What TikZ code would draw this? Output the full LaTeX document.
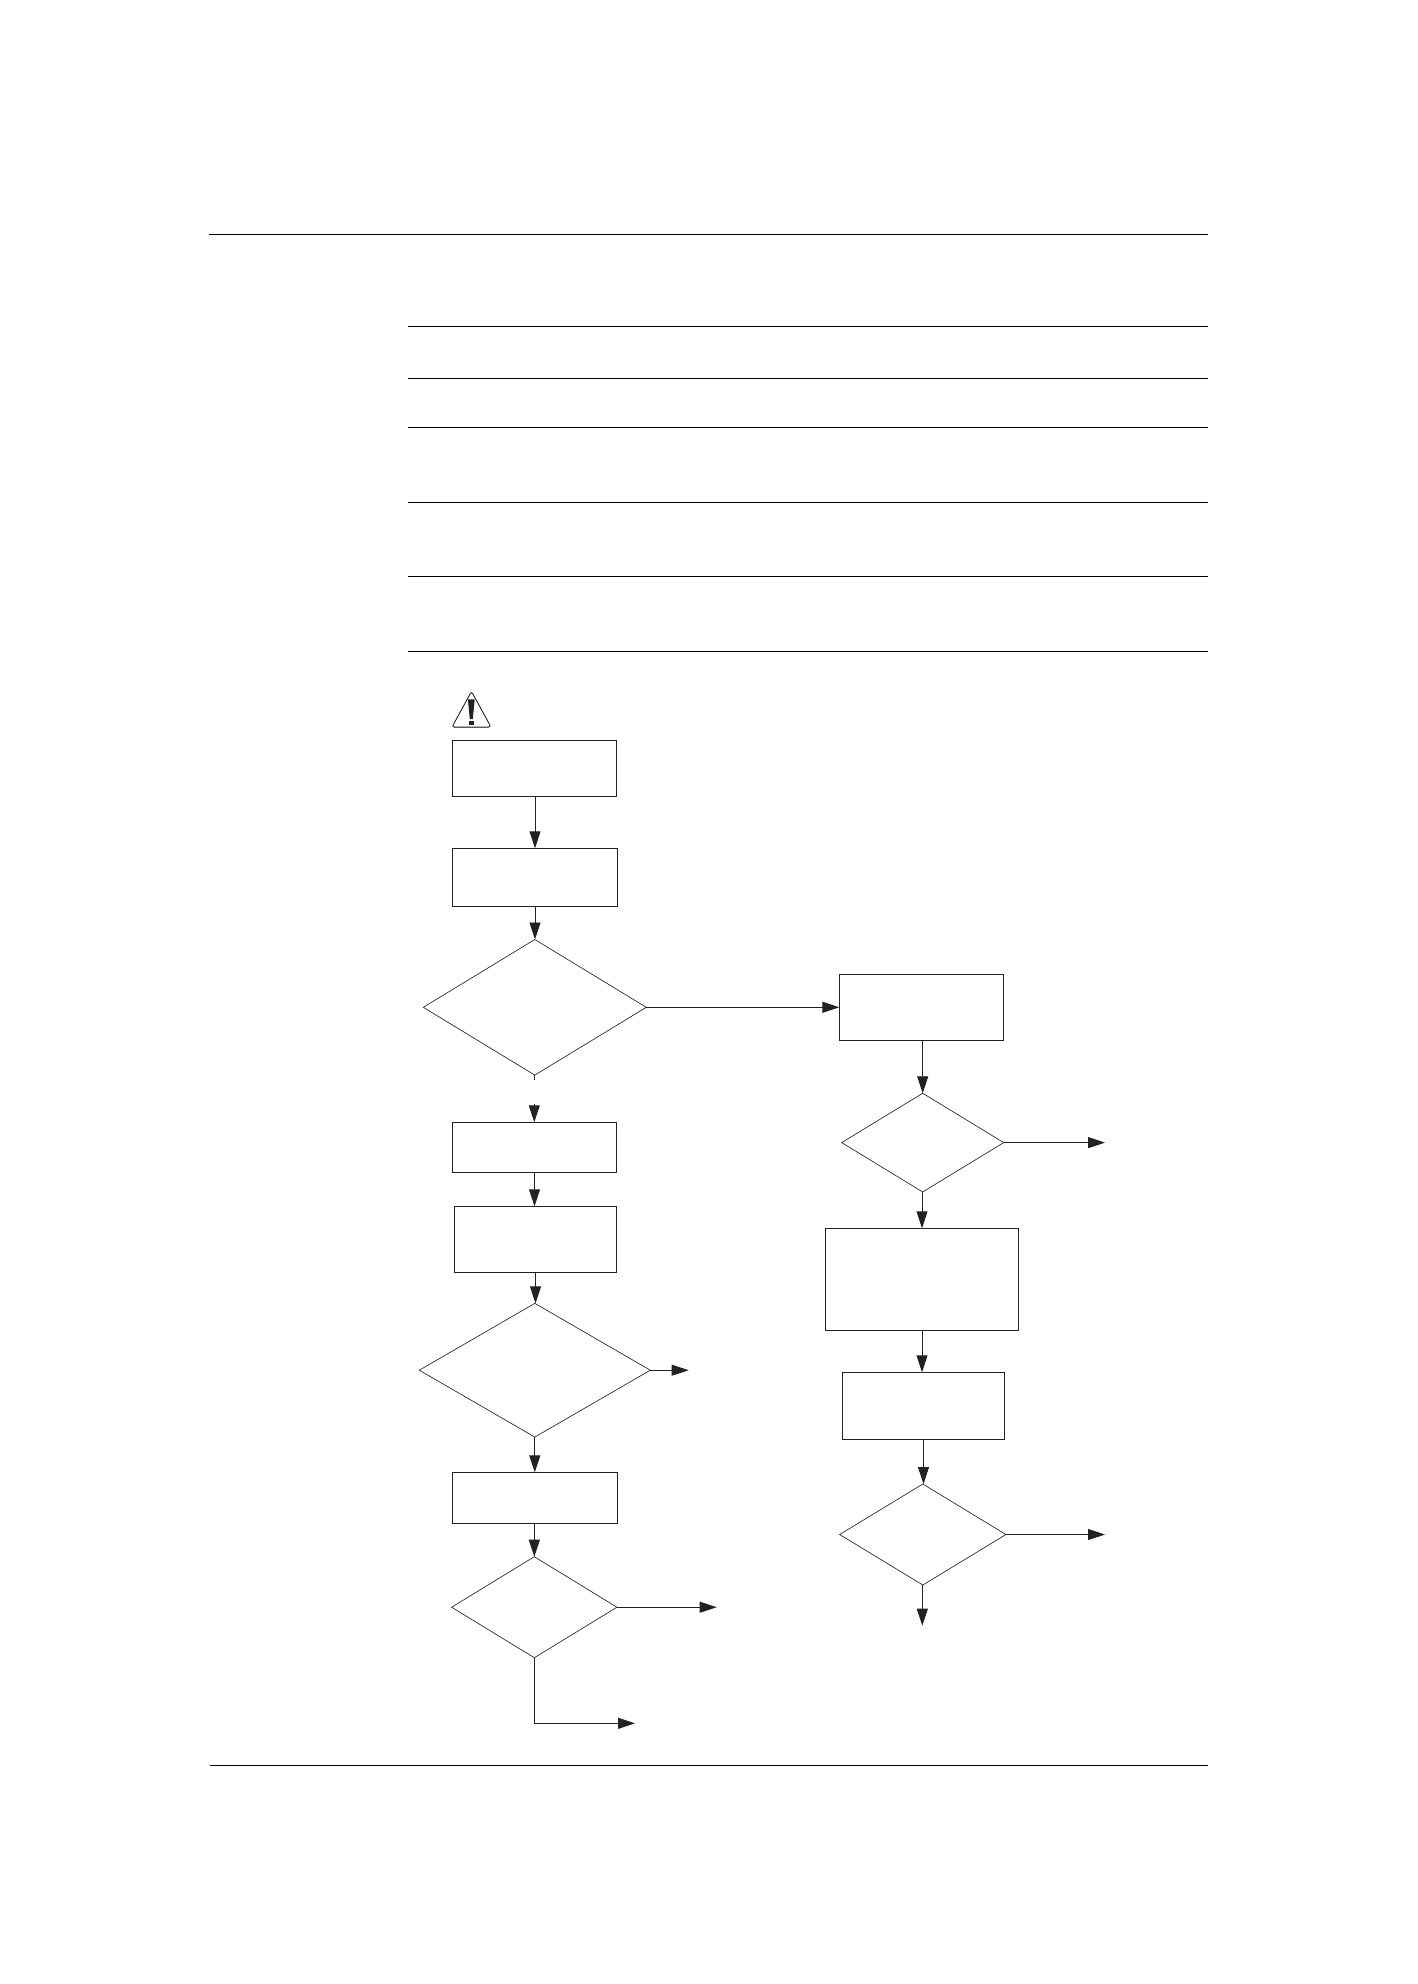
\documentclass[tikz,border=0pt]{standalone}
\usetikzlibrary{arrows.meta,shapes.geometric}
\definecolor{inkline}{HTML}{222222}
\tikzset{
    stepbox/.style={draw=inkline,line width=0.9pt,rectangle,inner sep=0pt,outer sep=0pt},
    decision/.style={draw=inkline,line width=0.65pt,diamond,aspect=1.6,inner sep=0pt,outer sep=0pt},
    flow/.style={draw=inkline,line width=0.9pt,-{Triangle[length=17pt,width=11pt]}},
    rule/.style={draw=black,line width=1pt}
}
\begin{document}
\begin{tikzpicture}[x=1pt,y=-1pt]
        \useasboundingbox (0,0) rectangle (1418,1984);
        %% page rules
        \draw[rule] (209,234.5) -- (1208,234.5);
        \draw[rule] (210,1765) -- (1208,1765);
        \foreach \rowy in {326,378,427,502,576,651} {
            \draw[rule] (408,\rowy) -- (1208,\rowy);
        }
        %% warning sign
        \draw[gray,line width=1.2pt] (454,727.6) -- (489,727.6);
        \draw[inkline,line width=0.9pt,rounded corners=2.5pt] (452,727) -- (471.5,691.5) -- (491,727) -- cycle;
        \fill[inkline] (467.9,699.3) -- (474.7,699.3) -- (472.8,719.2) -- (469.8,719.2) -- cycle;
        \fill[inkline] (469,720.5) rectangle (473.6,724.7);
        %% left column
        \node[stepbox,minimum width=164.4pt,minimum height=56.4pt] (box1) at (534.5,768.5) {};
        \node[stepbox,minimum width=165.4pt,minimum height=58.4pt] (box2) at (535,877.5) {};
        \node[decision,minimum width=223pt,minimum height=135.6pt] (dia1) at (534.8,1007.3) {};
        \node[stepbox,minimum width=164.4pt,minimum height=50pt] (box3) at (534.5,1147.3) {};
        \node[stepbox,minimum width=162.4pt,minimum height=66pt] (box4) at (535.5,1239.3) {};
        \node[decision,minimum width=231pt,minimum height=133.7pt] (dia2) at (534.8,1370.2) {};
        \node[stepbox,minimum width=165.4pt,minimum height=51pt] (box5) at (535,1497.8) {};
        \node[decision,minimum width=165.3pt,minimum height=101pt] (dia3) at (534.3,1607.2) {};
        %% right column
        \node[stepbox,minimum width=164.4pt,minimum height=66pt] (box6) at (921.5,1007.3) {};
        \node[decision,minimum width=162pt,minimum height=98.7pt] (dia4) at (922.7,1142.6) {};
        \node[stepbox,minimum width=193.4pt,minimum height=102pt] (box7) at (922,1279.3) {};
        \node[stepbox,minimum width=162.4pt,minimum height=67pt] (box8) at (923.5,1405.8) {};
        \node[decision,minimum width=166.3pt,minimum height=101pt] (dia5) at (922.8,1534.5) {};
        %% free ends
        \coordinate (gaptop) at (534.3,1079.5);
        \coordinate (gapend) at (534.3,1104);
        \coordinate (out2) at (688.7,1370.2);
        \coordinate (out3) at (716.7,1607.2);
        \coordinate (out4) at (1105,1142.6);
        \coordinate (out5) at (1105,1534.5);
        \coordinate (down5) at (922.3,1625.7);
        \coordinate (corner3) at (534.3,1723.3);
        \coordinate (end3) at (635,1723.3);
        %% connectors
        \draw[flow] (box2.north |- box1.south) -- (box2.north);
        \draw[flow] (box2.south) -- (box2.south |- dia1.north);
        \draw[draw=inkline,line width=0.9pt] (gaptop |- dia1.south) -- (gaptop);
        \draw[flow] (gapend) -- (gapend |- box3.north);
        \draw[flow] (box3.south) -- (box3.south |- box4.north);
        \draw[flow] (box4.south) -- (box4.south |- dia2.north);
        \draw[flow] (dia2.south) -- (dia2.south |- box5.north);
        \draw[flow] (dia3.north |- box5.south) -- (dia3.north);
        \draw[flow] (dia1.east) -- (box6.west);
        \draw[flow] (dia4.north |- box6.south) -- (dia4.north);
        \draw[flow] (box7.north |- dia4.south) -- (box7.north);
        \draw[flow] (box7.south) -- (box7.south |- box8.north);
        \draw[flow] (box8.south) -- (box8.south |- dia5.north);
        \draw[flow] (dia2.east) -- (out2);
        \draw[flow] (dia3.east) -- (out3);
        \draw[flow] (dia4.east) -- (out4);
        \draw[flow] (dia5.east) -- (out5);
        \draw[flow] (down5 |- dia5.south) -- (down5);
        \draw[flow] (dia3.south) -- (corner3) -- (end3);
    \end{tikzpicture}
\end{document}
